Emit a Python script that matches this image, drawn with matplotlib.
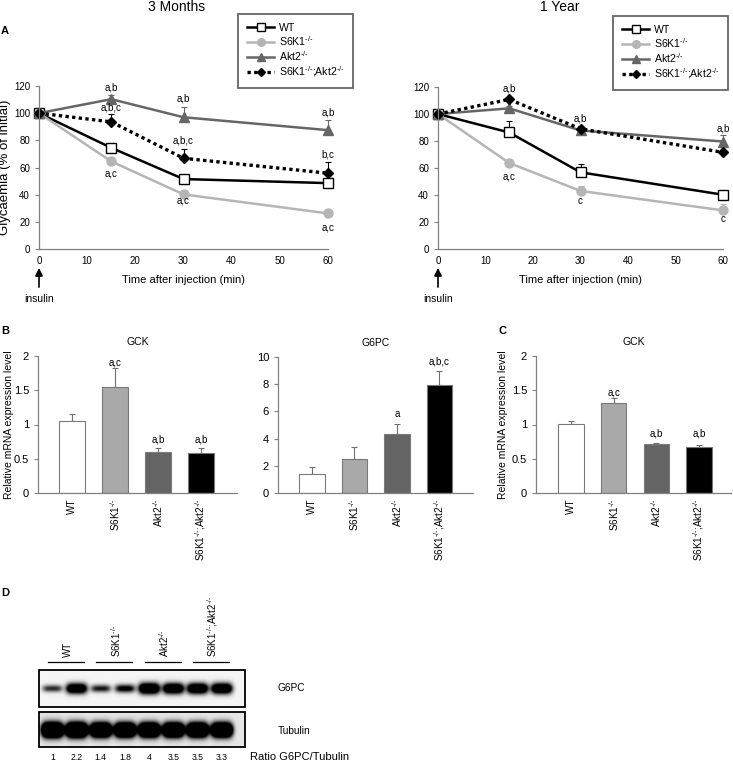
import numpy as np
import matplotlib
matplotlib.use('Agg')
import matplotlib.pyplot as plt
from matplotlib.patches import Rectangle

plt.rcParams['font.family'] = ['Liberation Sans', 'DejaVu Sans']
plt.rcParams['mathtext.fontset'] = 'custom'
plt.rcParams['mathtext.rm'] = 'Liberation Sans'
plt.rcParams['mathtext.it'] = 'Liberation Sans:italic'
plt.rcParams['mathtext.bf'] = 'Liberation Sans:bold'
plt.rcParams['mathtext.default'] = 'regular'

# ---------------- data ----------------
genotypes = ['WT', r'S6K1$^{\text{-/-}}$', r'Akt2$^{\text{-/-}}$',
             r'S6K1$^{\text{-/-}}$;Akt2$^{\text{-/-}}$']
time_min = [0, 15, 30, 60]

# Panel A, 3 months
gly3m_wt = [100, 74.5, 51.5, 48.5]
gly3m_s6k1 = [100, 64.5, 40.2, 26.2]
gly3m_akt2 = [100, 110.3, 97.0, 87.5]
gly3m_dko = [100, 93.6, 66.8, 55.8]
err3m_wt = [0, 1.0, 1.5, 1.5]
err3m_s6k1 = [0, 3.0, 1.5, 1.5]
err3m_akt2 = [0, 2.8, 7.3, 7.5]
err3m_dko = [0, 5.8, 6.8, 8.0]
ann3m_t = [15, 15, 15, 30, 30, 30, 60, 60, 60]
ann3m_y = [119, 104.5, 55.5, 111, 80, 35.5, 100.5, 69.5, 16]
ann3m_s = ['a,b', 'a,b,c', 'a,c', 'a,b', 'a,b,c', 'a,c', 'a,b', 'b,c', 'a,c']

# Panel A, 1 year
gly1y_wt = [100, 86.3, 56.8, 40.2]
gly1y_s6k1 = [100, 63.7, 43.0, 28.6]
gly1y_akt2 = [100, 104.2, 87.8, 79.6]
gly1y_dko = [100, 110.8, 89.0, 71.6]
err1y_wt = [0, 8.2, 6.4, 2.5]
err1y_s6k1 = [0, 1.0, 4.0, 4.4]
err1y_akt2 = [0, 1.5, 2.5, 5.0]
err1y_dko = [0, 1.0, 1.0, 2.0]
ann1y_t = [15, 15, 30, 30, 60, 60]
ann1y_y = [118.8, 53.8, 97, 35.3, 89, 22.5]
ann1y_s = ['a,b', 'a,c', 'a,b', 'c', 'a,b', 'c']

# Panel B / C bars
gck_b = [1.05, 1.55, 0.60, 0.585]
gck_b_err = [0.11, 0.27, 0.05, 0.065]
gck_b_ann = ['', 'a,c', 'a,b', 'a,b']
gck_b_ann_y = [0, 1.9, 0.78, 0.78]

g6pc_b = [1.42, 2.52, 4.36, 7.92]
g6pc_b_err = [0.48, 0.86, 0.74, 1.08]
g6pc_b_ann = ['', '', 'a', 'a,b,c']
g6pc_b_ann_y = [0, 0, 5.8, 9.7]

gck_c = [1.01, 1.31, 0.715, 0.675]
gck_c_err = [0.035, 0.07, 0.015, 0.03]
gck_c_ann = ['', 'a,c', 'a,b', 'a,b']
gck_c_ann_y = [0, 1.46, 0.87, 0.87]

# Panel D blot
g6pc_band = [0.45, 0.9, 0.5, 0.6, 1.0, 0.95, 0.95, 0.95]
tubulin_band = [1.0, 1.0, 0.95, 0.95, 0.95, 0.95, 0.95, 0.95]
ratio_labels = ['1', '2.2', '1.4', '1.8', '4', '3.5', '3.5', '3.3']

# ---------------- figure ----------------
W, H = 733, 762
fig = plt.figure(figsize=(W / 100, H / 100), dpi=100)


def ax_px(x0, y0, x1, y1):
    return fig.add_axes([x0 / W, 1 - y1 / H, (x1 - x0) / W, (y1 - y0) / H])


def ftext(x, y, s, **kw):
    return fig.text(x / W, 1 - y / H, s, **kw)


SPINE = '#808080'
bar_colors = ['white', '#a9a9a9', '#646464', 'black']


def style_axes(ax):
    for s in ['top', 'right']:
        ax.spines[s].set_visible(False)
    for s in ['left', 'bottom']:
        ax.spines[s].set_color(SPINE)
        ax.spines[s].set_linewidth(0.9)
    ax.tick_params(axis='y', direction='out', length=3, color=SPINE, width=0.8)


def line_panel(box, wt, s6, ak, dk, ewt, es6, eak, edk, ann_t, ann_y, ann_s, legend_anchor, ylabel):
    ax = ax_px(*box)
    style_axes(ax)
    series = [
        (wt, ewt, dict(color='black', lw=1.8, marker='s', mfc='white', mec='black', ms=6.5, mew=1.0, ls='-')),
        (s6, es6, dict(color='#b5b5b5', lw=1.8, marker='o', mfc='#b5b5b5', mec='#b5b5b5', ms=6.5, ls='-')),
        (ak, eak, dict(color='#666666', lw=1.8, marker='^', mfc='#666666', mec='#666666', ms=7, ls='-')),
        (dk, edk, dict(color='black', lw=2.4, marker='D', mfc='black', mec='black', ms=5.2, ls=(0, (1, 1)))),
    ]
    handles = []
    for (vals, err, st) in series:
        ax.errorbar(time_min, vals, yerr=[np.zeros(len(err)), err], fmt='none',
                    ecolor=st['color'], elinewidth=0.8, capsize=2, capthick=0.8, clip_on=False)
        ln, = ax.plot(time_min, vals, clip_on=False, **st)
        handles.append(ln)
    for t, y, s in zip(ann_t, ann_y, ann_s):
        ax.text(t, y, s, ha='center', va='center', fontsize=7)
    ax.set_xlim(0, 60)
    ax.set_ylim(0, 120)
    ax.set_xticks([0, 10, 20, 30, 40, 50, 60])
    ax.set_yticks([0, 20, 40, 60, 80, 100, 120])
    ax.tick_params(axis='x', length=0, pad=5)
    ax.tick_params(labelsize=7)
    h = box[3] - box[1]
    ax.set_xlabel('Time after injection (min)', fontsize=8)
    ax.xaxis.set_label_coords(0.5, -(26 / h))
    if ylabel:
        ax.set_ylabel(ylabel, fontsize=9.5)
        ax.yaxis.set_label_coords(-(28 / (box[2] - box[0])), 0.5)
    ax.annotate('insulin', xy=(0, -(19 / h)), xycoords=('data', 'axes fraction'),
                xytext=(0, -(50 / h)), textcoords=('data', 'axes fraction'),
                ha='center', va='center', fontsize=7.5,
                arrowprops=dict(arrowstyle='-|>', color='black', lw=1.2, mutation_scale=11,
                                shrinkA=3, shrinkB=0))
    leg = ax.legend(handles, genotypes, loc='upper left',
                    bbox_to_anchor=(legend_anchor[0] / W, 1 - legend_anchor[1] / H),
                    bbox_transform=fig.transFigure, borderaxespad=0, fontsize=7.6,
                    frameon=True, fancybox=False, edgecolor='#404040', handlelength=2.6,
                    labelspacing=0.12, handletextpad=0.4, borderpad=0.85, markerscale=0.85)
    leg.get_frame().set_linewidth(1.3)
    return ax


line_panel((39, 86, 328, 249), gly3m_wt, gly3m_s6k1, gly3m_akt2, gly3m_dko,
           err3m_wt, err3m_s6k1, err3m_akt2, err3m_dko, ann3m_t, ann3m_y, ann3m_s,
           (238, 14), 'Glycaemia (% of initial)')
line_panel((438, 87, 723, 249), gly1y_wt, gly1y_s6k1, gly1y_akt2, gly1y_dko,
           err1y_wt, err1y_s6k1, err1y_akt2, err1y_dko, ann1y_t, ann1y_y, ann1y_s,
           (613, 16), None)

ftext(177, 7, '3 Months', ha='center', va='center', fontsize=10)
ftext(560, 7, '1 Year', ha='center', va='center', fontsize=10)
ftext(1, 31, 'A', ha='left', va='center', fontsize=8, fontweight='bold')
ftext(1, 331, 'B', ha='left', va='center', fontsize=8, fontweight='bold')
ftext(498, 331, 'C', ha='left', va='center', fontsize=8, fontweight='bold')
ftext(1, 593, 'D', ha='left', va='center', fontsize=8, fontweight='bold')


def bar_panel(box, xlim, vals, errs, ann, ann_y, ymax, yticks, yticklabels, title, ylabel, ylab_off):
    ax = ax_px(*box)
    style_axes(ax)
    x = np.arange(len(vals))
    ax.bar(x, vals, width=0.6, color=bar_colors, edgecolor='#7a7a7a', linewidth=0.8, zorder=2)
    ax.errorbar(x, vals, yerr=[np.zeros(len(errs)), errs], fmt='none', ecolor='#707070',
                elinewidth=0.8, capsize=2, capthick=0.8, zorder=1)
    for xi, s, y in zip(x, ann, ann_y):
        if s:
            ax.text(xi, y, s, ha='center', va='center', fontsize=7)
    ax.set_xlim(*xlim)
    ax.set_ylim(0, ymax)
    ax.set_yticks(yticks)
    ax.set_yticklabels(yticklabels)
    ax.set_xticks(x)
    ax.set_xticklabels(genotypes, rotation=90, fontsize=7.2)
    ax.tick_params(axis='x', length=0, pad=4)
    ax.tick_params(axis='y', labelsize=8)
    ax.set_title(title, fontsize=7.5, pad=8)
    if ylabel:
        ax.set_ylabel(ylabel, fontsize=7.5)
        ax.yaxis.set_label_coords(-(ylab_off / (box[2] - box[0])), 0.5)
    return ax


bar_panel((38, 356, 237, 493), (-0.79, 3.84), gck_b, gck_b_err, gck_b_ann, gck_b_ann_y,
          2, [0, 0.5, 1, 1.5, 2], ['0', '0.5', '1', '1.5', '2'], 'GCK',
          'Relative mRNA expression level', 24)
bar_panel((278, 357, 473, 493), (-0.8, 3.79), g6pc_b, g6pc_b_err, g6pc_b_ann, g6pc_b_ann_y,
          10, [0, 2, 4, 6, 8, 10], ['0', '2', '4', '6', '8', '10'], 'G6PC', None, 0)
bar_panel((536, 356, 731, 493), (-0.82, 3.75), gck_c, gck_c_err, gck_c_ann, gck_c_ann_y,
          2, [0, 0.5, 1, 1.5, 2], ['0', '0.5', '1', '1.5', '2'], 'GCK',
          'Relative mRNA expression level', 28)

# ---------------- Panel D: western blot ----------------
XL, XR = -0.55, 7.95
axd = ax_px(39, 595, 245, 762)
axd.set_xlim(XL, XR)
axd.set_ylim(762, 595)
axd.axis('off')


def blot(intens, ytop, ybot, yc, thick, gain, bg):
    xs = np.linspace(XL, XR, 500)
    ys = np.linspace(ytop, ybot, 120)
    X, Y = np.meshgrid(xs, ys)
    dark = np.zeros_like(X)
    for i, v in enumerate(intens):
        w = 0.38 + 0.06 * v
        h = thick * (0.35 + 0.65 * v)
        dark += v * np.exp(-(np.abs(X - i) / w) ** 4) * np.exp(-((Y - yc) / h) ** 2)
    img = np.clip(bg - gain * dark, 0, 1)
    axd.imshow(img, extent=(XL, XR, ybot, ytop), cmap='gray', vmin=0, vmax=1,
               aspect='auto', origin='upper', interpolation='bilinear', zorder=1)
    axd.add_patch(Rectangle((XL, ytop), XR - XL, ybot - ytop, fill=False,
                            edgecolor='black', lw=1.3, zorder=3, clip_on=False))


blot(g6pc_band, 670, 707, 688.5, 5.5, 1.8, 0.96)
blot(tubulin_band, 712, 747, 730, 7.0, 3.0, 0.9)
axd.set_xlim(XL, XR)
axd.set_ylim(762, 595)

for g, name in enumerate(genotypes):
    c = 2 * g + 0.55
    axd.plot([c - 0.74, c + 0.74], [662, 662], color='black', lw=0.9, clip_on=False)
    axd.text(c + 0.08, 657, name, rotation=90, ha='center', va='bottom', fontsize=7)

for i, r in enumerate(ratio_labels):
    axd.text(i, 757, r, ha='center', va='center', fontsize=6.2, clip_on=False)

ftext(278, 688, 'G6PC', ha='left', va='center', fontsize=7.3)
ftext(278, 731, 'Tubulin', ha='left', va='center', fontsize=7.3)
ftext(250, 757, 'Ratio G6PC/Tubulin', ha='left', va='center', fontsize=8)

fig.savefig('out.png', dpi=100)
